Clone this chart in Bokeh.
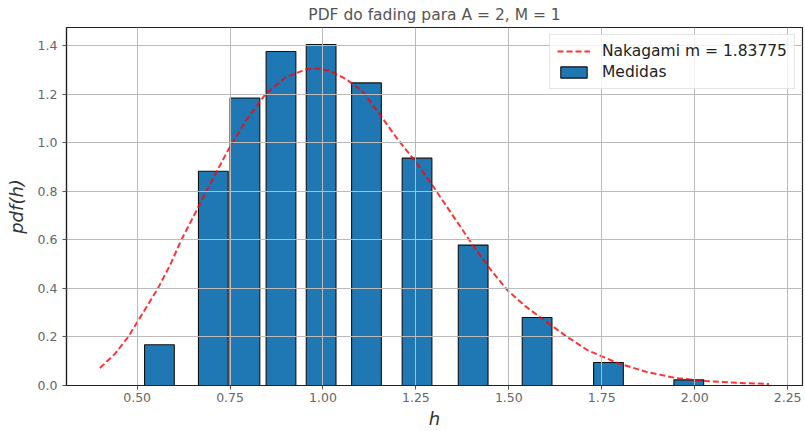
from bokeh.plotting import figure
from bokeh.models import Range1d, FixedTicker, NumeralTickFormatter, Legend, LegendItem
from bokeh.embed import file_html
from bokeh.resources import INLINE

# ---- data ----
title_text = "PDF do fading para A = 2, M = 1"
x_label = "h"
y_label = "pdf(h)"
line_label = "Nakagami m = 1.83775"
bar_label = "Medidas"

bar_centers = [0.560, 0.705, 0.790, 0.887, 0.995, 1.117, 1.253, 1.404, 1.576, 1.768, 1.984]
bar_heights = [0.168, 0.882, 1.184, 1.375, 1.404, 1.246, 0.936, 0.578, 0.280, 0.095, 0.023]

curve_x = [0.400, 0.440, 0.476, 0.516, 0.556, 0.590, 0.619, 0.653, 0.686, 0.712, 0.745,
           0.793, 0.846, 0.900, 0.953, 0.980, 1.016, 1.060, 1.105, 1.158, 1.203, 1.250,
           1.292, 1.346, 1.404, 1.453, 1.497, 1.542, 1.596, 1.658, 1.712, 1.792, 1.872,
           1.952, 2.033, 2.113, 2.200]
curve_y = [0.072, 0.130, 0.200, 0.300, 0.400, 0.500, 0.600, 0.700, 0.800, 0.875, 0.970,
           1.091, 1.201, 1.269, 1.301, 1.306, 1.297, 1.263, 1.214, 1.105, 1.009, 0.920,
           0.830, 0.707, 0.576, 0.473, 0.391, 0.329, 0.268, 0.199, 0.145, 0.093, 0.055,
           0.030, 0.018, 0.011, 0.006]

x_ticks = [0.50, 0.75, 1.00, 1.25, 1.50, 1.75, 2.00, 2.25]
y_ticks = [0.0, 0.2, 0.4, 0.6, 0.8, 1.0, 1.2, 1.4]

# ---- styles ----
FONT = "DejaVu Sans"
BAR_COLOR = "#1f77b4"
LINE_COLOR = "#ff0000"

p = figure(width=805, height=431, output_backend="svg", toolbar_location=None,
           x_range=Range1d(0.31, 2.29), y_range=Range1d(0, 1.474),
           min_border_left=66, min_border_right=3, min_border_top=27, min_border_bottom=46)
p.background_fill_color = "white"
p.border_fill_color = "white"
p.outline_line_color = "#222222"
p.outline_line_width = 1.2

p.title.text = title_text
p.title.align = "center"
p.title.text_font = FONT
p.title.text_font_size = "15.5px"
p.title.text_font_style = "normal"
p.title.text_color = "#555555"
p.title.offset = 0
p.title.standoff = 7

bars = p.vbar(x=bar_centers, top=bar_heights, width=0.08, bottom=0,
              fill_color=BAR_COLOR, line_color="#111111", line_width=1.1, level="underlay")
line = p.line(curve_x, curve_y, line_color=LINE_COLOR, line_alpha=0.8, line_width=2,
              line_dash="6 3")

for g in (p.xgrid, p.ygrid):
    g.grid_line_color = "#bbbbbb"
    g.grid_line_width = 1
    g.level = "glyph"

p.xaxis.ticker = FixedTicker(ticks=x_ticks)
p.yaxis.ticker = FixedTicker(ticks=y_ticks)
p.xaxis.formatter = NumeralTickFormatter(format="0.00")
p.yaxis.formatter = NumeralTickFormatter(format="0.0")

for ax in (p.xaxis[0], p.yaxis[0]):
    ax.axis_line_color = "#222222"
    ax.axis_line_width = 1.2
    ax.major_tick_in = 0
    ax.major_tick_out = 4
    ax.major_tick_line_color = "#555555"
    ax.minor_tick_line_color = None
    ax.major_label_text_font = FONT
    ax.major_label_text_font_size = "12.5px"
    ax.major_label_text_color = "#666666"
    ax.axis_label_text_font = FONT
    ax.axis_label_text_font_size = "18px"
    ax.axis_label_text_font_style = "italic"
    ax.axis_label_text_color = "#333333"

p.xaxis.axis_label = x_label
p.yaxis.axis_label = y_label
p.xaxis.major_label_standoff = 3
p.yaxis.major_label_standoff = 5
p.xaxis.axis_label_standoff = 3
p.yaxis.axis_label_standoff = 8

legend = Legend(items=[LegendItem(label=line_label, renderers=[line]),
                       LegendItem(label=bar_label, renderers=[bars])],
                location="top_right")
legend.margin = 7
legend.padding = 7
legend.spacing = 3
legend.glyph_width = 33
legend.glyph_height = 14
legend.label_standoff = 12
legend.label_text_font = FONT
legend.label_text_font_size = "15.5px"
legend.label_text_color = "#222222"
legend.border_line_color = "#cccccc"
legend.border_line_width = 1
legend.background_fill_color = "white"
legend.background_fill_alpha = 0.8
p.add_layout(legend, "center")

open("out.html", "w").write(file_html(p, INLINE))
